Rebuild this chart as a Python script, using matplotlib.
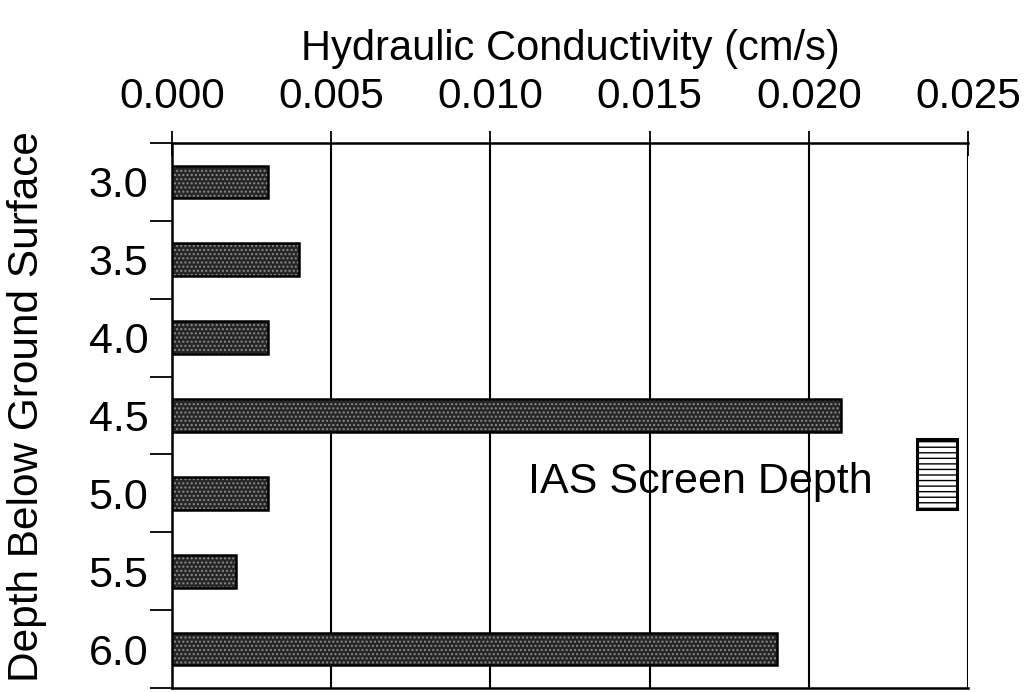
import numpy as np
import matplotlib
matplotlib.use("Agg")
import matplotlib.pyplot as plt
from matplotlib.patches import Rectangle

plt.rcParams['font.family'] = ['Liberation Sans', 'DejaVu Sans']
plt.rcParams['hatch.linewidth'] = 1.0

# data
depths = [3.0, 3.5, 4.0, 4.5, 5.0, 5.5, 6.0]
depth_labels = ['3.0', '3.5', '4.0', '4.5', '5.0', '5.5', '6.0']
conductivity = [0.003, 0.004, 0.003, 0.021, 0.003, 0.002, 0.019]
x_ticks = [0.000, 0.005, 0.010, 0.015, 0.020, 0.025]
x_tick_labels = ['0.000', '0.005', '0.010', '0.015', '0.020', '0.025']
screen_top, screen_bottom = 4.65, 5.10
screen_x = (0.0234, 0.02465)

fig = plt.figure(figsize=(10.29, 6.92), dpi=100)
ax = fig.add_axes([172/1029, 1 - 688/692, (968-172)/1029, (688-143)/692])

# textured bars: dark fill with light speckle, then black outline
ax.barh(depths, conductivity, height=0.21, color='#262626',
        edgecolor='#8a8a8a', linewidth=0, hatch='....', zorder=3)
ax.barh(depths, conductivity, height=0.21, fill=False,
        edgecolor='black', linewidth=1.8, zorder=4)

ax.set_xlim(0, 0.025)
ax.set_ylim(6.25, 2.75)

# vertical grid lines
for xv in x_ticks[1:]:
    ax.axvline(xv, color='black', linewidth=1.5, zorder=2)

ax.xaxis.tick_top()
ax.set_xticks(x_ticks)
ax.set_xticklabels(x_tick_labels, fontsize=30.5)
ax.tick_params(axis='x', direction='inout', length=18, width=1.3, pad=10)

ax.set_yticks(depths)
ax.set_yticklabels(depth_labels, fontsize=31)
ax.tick_params(axis='y', which='major', length=0, pad=17)
ax.set_yticks(np.arange(2.75, 6.26, 0.5), minor=True)
ax.tick_params(axis='y', which='minor', direction='out', length=16, width=1.3)

for s in ['top', 'left', 'bottom']:
    ax.spines[s].set_linewidth(1.8)
ax.spines['right'].set_visible(False)

ax.set_xlabel('Hydraulic Conductivity (cm/s)', fontsize=30, labelpad=12)
ax.xaxis.set_label_position('top')
fig.text(27/1029, 1 - 407/692, 'Depth Below Ground Surface', fontsize=30.5,
         rotation=90, ha='center', va='center')

# IAS screen depth marker
ax.text(0.01118, 4.93, 'IAS Screen Depth', fontsize=31, ha='left', va='center', zorder=5)
ax.add_patch(Rectangle((screen_x[0], screen_top), screen_x[1] - screen_x[0],
                       screen_bottom - screen_top, facecolor='white',
                       edgecolor='black', linewidth=2.2, hatch='---', zorder=5))

fig.savefig('out.png', dpi=100)
